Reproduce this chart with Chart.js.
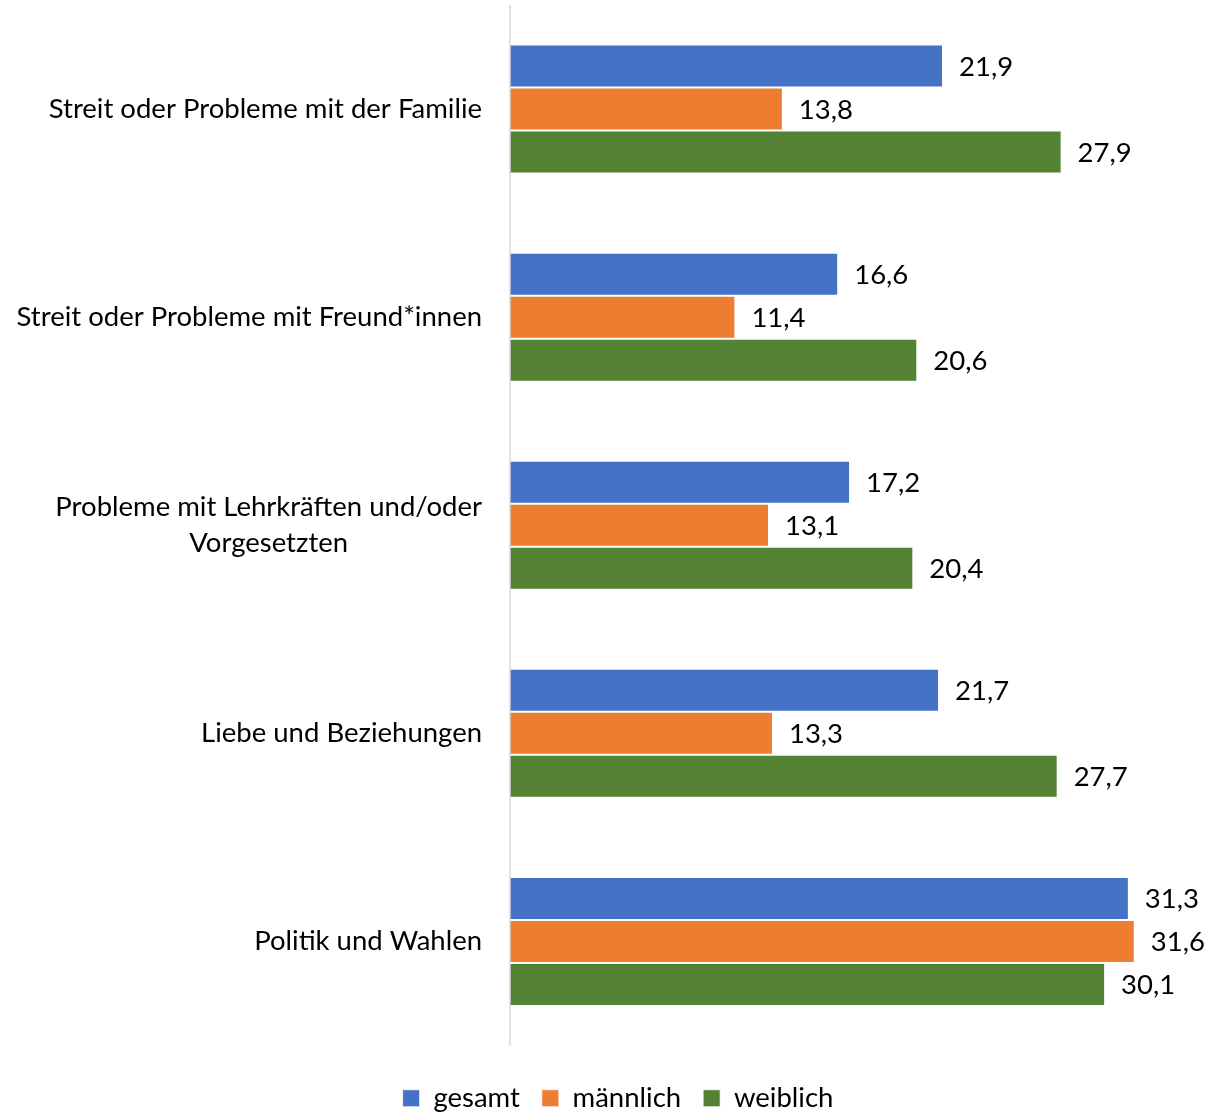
<!DOCTYPE html>
<html>
<head>
<meta charset="utf-8">
<script src="https://cdn.jsdelivr.net/npm/chart.js@4"></script>
<style>
  html, body { margin: 0; padding: 0; background: #fff; }
  #wrap { width: 1207px; height: 1114px; }
</style>
</head>
<body>
<div id="wrap"><canvas id="grafico"></canvas></div>
<script>
// ..........DADOS..........
const kategorien = [
    ["Streit oder Probleme mit der Familie"],
    ["Streit oder Probleme mit Freund*innen"],
    ["Probleme mit Lehrkräften und/oder", "Vorgesetzten"],
    ["Liebe und Beziehungen"],
    ["Politik und Wahlen"]
];
const gesamt = [21.9, 16.6, 17.2, 21.7, 31.3];
const maennlich = [13.8, 11.4, 13.1, 13.3, 31.6];
const weiblich = [27.9, 20.6, 20.4, 27.7, 30.1];

const FONTE = 'Lato';
const TAM = 27.5;

// escreve os rótulos das categorias (linhas centradas, bloco alinhado à direita)
const rotulosCategoria = {
    id: 'rotulosCategoria',
    afterDraw(chart) {
        const ctx = chart.ctx;
        const y = chart.scales.y;
        const direita = y.right - 28;
        ctx.save();
        ctx.font = TAM + 'px ' + FONTE;
        ctx.fillStyle = '#000';
        ctx.textAlign = 'center';
        ctx.textBaseline = 'middle';
        kategorien.forEach((linhas, i) => {
            const yc = y.getPixelForValue(i);
            const largura = Math.max(...linhas.map(l => ctx.measureText(l).width));
            const altura = 36;
            const topo = yc - (linhas.length - 1) * altura / 2;
            linhas.forEach((l, j) => {
                ctx.fillText(l, direita - largura / 2, topo + j * altura);
            });
        });
        ctx.restore();
    }
};

// valores ao lado das barras
const rotulosValores = {
    id: 'rotulosValores',
    afterDatasetsDraw(chart) {
        const ctx = chart.ctx;
        ctx.save();
        ctx.font = TAM + 'px ' + FONTE;
        ctx.fillStyle = '#000';
        ctx.textAlign = 'left';
        ctx.textBaseline = 'middle';
        chart.data.datasets.forEach((ds, i) => {
            chart.getDatasetMeta(i).data.forEach((bar, j) => {
                const texto = ds.data[j].toFixed(1).replace('.', ',');
                ctx.fillText(texto, bar.x + 16, bar.y + 1);
            });
        });
        ctx.restore();
    }
};

// eixo vertical cinza
const linhaEixo = {
    id: 'linhaEixo',
    afterDatasetsDraw(chart) {
        const a = chart.chartArea;
        const ctx = chart.ctx;
        ctx.save();
        ctx.strokeStyle = '#d9d9d9';
        ctx.lineWidth = 1.5;
        ctx.beginPath();
        ctx.moveTo(a.left, a.top);
        ctx.lineTo(a.left, a.bottom);
        ctx.stroke();
        ctx.restore();
    }
};

// desloca a legenda um pouco para a direita
const moveLegenda = {
    id: 'moveLegenda',
    afterLayout(chart) {
        chart.legend.left += 17;
        chart.legend.right += 17;
    }
};

Chart.defaults.font.family = FONTE;
Chart.defaults.font.size = TAM;
Chart.defaults.color = '#000';

var ctx = document.getElementById('grafico').getContext('2d');
var chart = new Chart(ctx, {
    type: 'bar',
    data: {
        labels: kategorien.map(k => k.join(' ')),
        datasets: [
            { label: 'gesamt', data: gesamt, backgroundColor: '#4472c4' },
            { label: 'männlich', data: maennlich, backgroundColor: '#ed7d31' },
            { label: 'weiblich', data: weiblich, backgroundColor: '#548235' }
        ]
    },
    options: {
        indexAxis: 'y',
        responsive: true,
        maintainAspectRatio: false,
        animation: false,
        layout: { padding: { top: 5, right: 5, bottom: -8, left: 0 } },
        datasets: {
            bar: {
                categoryPercentage: 0.62,
                barPercentage: 1,
                borderColor: '#ffffff',
                borderWidth: { top: 1, bottom: 1, left: 0, right: 1 }
            }
        },
        scales: {
            x: {
                min: 0,
                max: 35,
                display: false
            },
            y: {
                grid: { display: false },
                border: { display: false },
                ticks: { display: false },
                afterFit(scale) { scale.width = 510; }
            }
        },
        plugins: {
            legend: {
                position: 'bottom',
                // título vazio só para dar espaço acima da legenda
                title: { display: true, text: ' ', font: { size: 17, lineHeight: 1 }, padding: 0 },
                labels: {
                    boxWidth: 17,
                    boxHeight: 17,
                    padding: 22,
                    font: { size: TAM, family: FONTE },
                    color: '#000'
                }
            },
            tooltip: { enabled: false }
        }
    },
    plugins: [rotulosCategoria, rotulosValores, linhaEixo, moveLegenda]
});
</script>
</body>
</html>
